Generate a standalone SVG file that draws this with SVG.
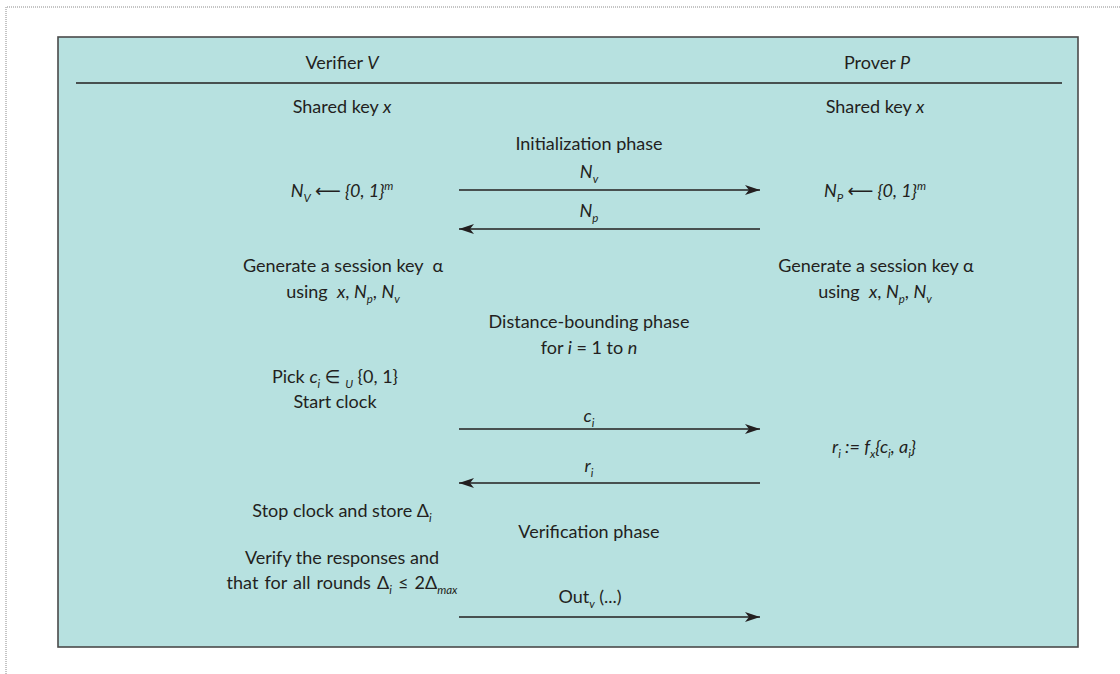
<svg xmlns="http://www.w3.org/2000/svg" width="1120" height="674" viewBox="0 0 1120 674">
<style>
text{font-family:Lato,"Liberation Sans","DejaVu Sans",sans-serif;font-size:18px;fill:#231f20;text-anchor:middle}
.i{font-style:italic}
.s{font-size:11.5px;font-style:italic}
.ln{stroke:#231f20;stroke-width:1.4;fill:none}
</style>
<defs>
<marker id="ah" markerWidth="16" markerHeight="10" refX="15" refY="5" orient="auto" markerUnits="userSpaceOnUse"><path d="M0,0 L15,5 L0,10 L4,5 Z" fill="#231f20"/></marker>
</defs>
<rect width="1120" height="674" fill="#fff"/>
<path d="M6,674 V7 H1120" fill="none" stroke="#8a8a8a" stroke-width="1" stroke-dasharray="1,1"/>
<g id="frame">
<rect x="58" y="37" width="1020" height="610" fill="#b7e1e0" stroke="#4a4a4a" stroke-width="1.6"/>
<line x1="76" y1="83" x2="1062" y2="83" stroke="#231f20" stroke-width="1.4"/>
</g>
<g id="verifier">
<text x="342" y="69">Verifier <tspan class="i">V</tspan></text>
<text x="342" y="113">Shared key <tspan class="i">x</tspan></text>
<text x="342" y="197" class="i">N<tspan class="s" dy="5">V</tspan><tspan dy="-5"> ⟵ {0, 1}</tspan><tspan class="s" dy="-7">m</tspan></text>
<text x="343" y="272">Generate a session key&#160; α</text>
<text x="343" y="298">using&#160; <tspan class="i">x</tspan>, <tspan class="i">N</tspan><tspan class="s" dy="5">p</tspan><tspan dy="-5">, </tspan><tspan class="i">N</tspan><tspan class="s" dy="5">v</tspan></text>
<text x="335" y="383">Pick <tspan class="i">c</tspan><tspan class="s" dy="5">i</tspan><tspan dy="-5"> ∈ </tspan><tspan class="s" dy="5">U</tspan><tspan dy="-5"> {0, 1}</tspan></text>
<text x="335" y="408">Start clock</text>
<text x="342" y="517">Stop clock and store Δ<tspan class="s" dy="5">i</tspan></text>
<text x="342" y="564">Verify the responses and</text>
<text x="342" y="589" word-spacing="1.5">that for all rounds Δ<tspan class="s" dy="5">i</tspan><tspan dy="-5"> ≤ 2Δ</tspan><tspan class="s" dy="5">max</tspan></text>
</g>
<g id="prover">
<text x="877" y="69">Prover <tspan class="i">P</tspan></text>
<text x="875" y="113">Shared key <tspan class="i">x</tspan></text>
<text x="875" y="197" class="i">N<tspan class="s" dy="5">P</tspan><tspan dy="-5"> ⟵ {0, 1}</tspan><tspan class="s" dy="-7">m</tspan></text>
<text x="876" y="272">Generate a session key α</text>
<text x="875" y="298">using&#160; <tspan class="i">x</tspan>, <tspan class="i">N</tspan><tspan class="s" dy="5">p</tspan><tspan dy="-5">, </tspan><tspan class="i">N</tspan><tspan class="s" dy="5">v</tspan></text>
<text x="874" y="453" class="i">r<tspan class="s" dy="5">i</tspan><tspan dy="-5"> := f</tspan><tspan class="s" dy="5">x</tspan><tspan dy="-5">{c</tspan><tspan class="s" dy="5">i</tspan><tspan dy="-5">, a</tspan><tspan class="s" dy="5">i</tspan><tspan dy="-5">}</tspan></text>
</g>
<g id="phases">
<text x="589" y="150">Initialization phase</text>
<text x="589" y="328">Distance-bounding phase</text>
<text x="589" y="354">for <tspan class="i">i</tspan> = 1 to <tspan class="i">n</tspan></text>
<text x="589" y="538">Verification phase</text>
</g>
<g id="connectors">
<line class="ln" x1="459" y1="190" x2="760" y2="190" marker-end="url(#ah)"/>
<line class="ln" x1="760" y1="229" x2="459" y2="229" marker-end="url(#ah)"/>
<line class="ln" x1="459" y1="429" x2="760" y2="429" marker-end="url(#ah)"/>
<line class="ln" x1="760" y1="483" x2="459" y2="483" marker-end="url(#ah)"/>
<line class="ln" x1="459" y1="617" x2="760" y2="617" marker-end="url(#ah)"/>
<text x="589" y="178" class="i">N<tspan class="s" dy="5">v</tspan></text>
<text x="589" y="217" class="i">N<tspan class="s" dy="5">p</tspan></text>
<text x="589" y="422" class="i">c<tspan class="s" dy="5">i</tspan></text>
<text x="589" y="472" class="i">r<tspan class="s" dy="5">i</tspan></text>
<text x="590" y="603">Out<tspan class="s" dy="5">v</tspan><tspan dy="-5"> (...)</tspan></text>
</g>
</svg>
